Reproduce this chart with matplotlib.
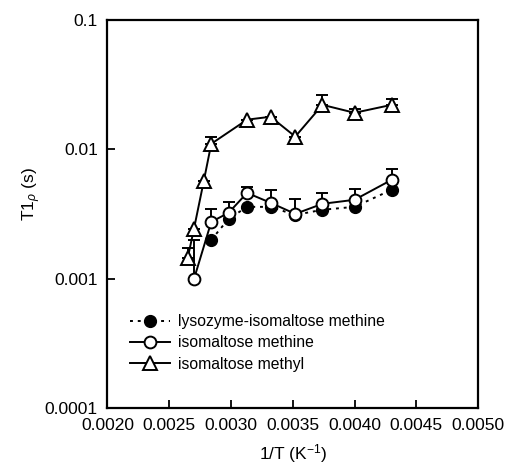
import matplotlib
matplotlib.use("Agg")
import matplotlib.pyplot as plt
import numpy as np
from matplotlib.ticker import FixedLocator, FuncFormatter, NullLocator

plt.rcParams["font.family"] = ["Liberation Sans", "DejaVu Sans"]
plt.rcParams["mathtext.fontset"] = "custom"
plt.rcParams["mathtext.rm"] = "Liberation Sans"
plt.rcParams["mathtext.it"] = "Liberation Sans:italic"

# 1/T positions (K^-1) and T1rho values (s)
inv_t_lys = [0.00284, 0.00298, 0.00313, 0.00332, 0.00352, 0.00374, 0.00400, 0.00430]
t1_lys = [0.00199, 0.00289, 0.00358, 0.00358, 0.00310, 0.00340, 0.00358, 0.00485]

inv_t_methine = [0.00270, 0.00284, 0.00298, 0.00313, 0.00332, 0.00352, 0.00374, 0.00400, 0.00430]
t1_methine = [0.00099, 0.00274, 0.00322, 0.00459, 0.00385, 0.00316, 0.00378, 0.00406, 0.00579]
t1_methine_top = [0.00200, 0.00346, 0.00393, 0.00514, 0.00485, 0.00412, 0.00460, 0.00494, 0.00703]

inv_t_methyl = [0.00265, 0.00270, 0.00278, 0.00284, 0.00313, 0.00332, 0.00352, 0.00374, 0.00400, 0.00430]
t1_methyl = [0.00145, 0.00242, 0.00570, 0.0110, 0.0169, 0.0178, 0.0125, 0.0220, 0.0191, 0.0220]
t1_methyl_top = [0.00173, 0.00242, 0.00570, 0.0125, 0.0169, 0.0178, 0.0125, 0.0263, 0.0205, 0.0244]

y_ticks = [0.0001, 0.001, 0.01, 0.1]
x_ticks = [0.0020, 0.0025, 0.0030, 0.0035, 0.0040, 0.0045, 0.0050]

fig = plt.figure(figsize=(5.07, 4.71), dpi=100)
ax = fig.add_axes([0.212, 0.134, 0.731, 0.824])

lw = 1.4
ms = 8.5

def upper_err(vals, tops):
    vals = np.array(vals)
    return [np.zeros_like(vals), np.array(tops) - vals]

ax.errorbar(inv_t_methyl, t1_methyl, yerr=upper_err(t1_methyl, t1_methyl_top),
            fmt="none", ecolor="black", elinewidth=lw, capsize=4.5, capthick=lw, zorder=2)
ax.errorbar(inv_t_methine, t1_methine, yerr=upper_err(t1_methine, t1_methine_top),
            fmt="none", ecolor="black", elinewidth=lw, capsize=4.5, capthick=lw, zorder=2)

ax.plot(inv_t_lys, t1_lys, linestyle=(0, (1.5, 2.5)), color="black", linewidth=lw,
        marker="o", markersize=ms, markerfacecolor="black", markeredgecolor="black",
        label="lysozyme-isomaltose methine", zorder=3)
ax.plot(inv_t_methine, t1_methine, linestyle="-", color="black", linewidth=lw,
        marker="o", markersize=ms, markerfacecolor="white", markeredgecolor="black",
        markeredgewidth=1.4, label="isomaltose methine", zorder=4)
ax.plot(inv_t_methyl, t1_methyl, linestyle="-", color="black", linewidth=lw,
        marker="^", markersize=ms + 1, markerfacecolor="white", markeredgecolor="black",
        markeredgewidth=1.4, label="isomaltose methyl", zorder=4)

ax.set_yscale("log")
ax.set_xlim(0.0020, 0.0050)
ax.set_ylim(0.0001, 0.1)
ax.yaxis.set_major_locator(FixedLocator(y_ticks))
ax.yaxis.set_minor_locator(NullLocator())
ax.yaxis.set_major_formatter(FuncFormatter(lambda v, p: f"{v:g}" if v >= 0.001 else "0.0001"))
ax.xaxis.set_major_locator(FixedLocator(x_ticks))
ax.xaxis.set_major_formatter(FuncFormatter(lambda v, p: f"{v:.4f}"))

ax.tick_params(direction="in", length=6, width=1.3, labelsize=12.5, pad=7,
               top=False, right=False)
for side in ax.spines.values():
    side.set_linewidth(1.6)

ax.set_xlabel("1/T (K$^{-1}$)", fontsize=12.5, labelpad=7)
ax.set_ylabel("T1$_{\\rho}$ (s)", fontsize=12.5)
ax.yaxis.set_label_coords(-0.175, 0.55)

ax.legend(loc="upper left", bbox_to_anchor=(0.03, 0.27), frameon=False,
          fontsize=11.3, handlelength=2.6, handletextpad=0.5, labelspacing=0.4,
          borderaxespad=0.3)

fig.savefig("out.png", dpi=100)
